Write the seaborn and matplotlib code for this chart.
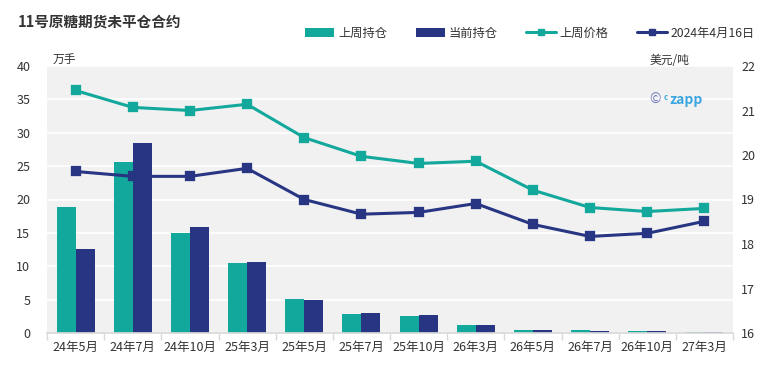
import matplotlib
matplotlib.use("Agg")
import matplotlib.pyplot as plt
import seaborn as sns
import pandas as pd
import numpy as np
from matplotlib.lines import Line2D
from matplotlib.patches import Patch

categories = ["24年5月", "24年7月", "24年10月", "25年3月", "25年5月", "25年7月",
              "25年10月", "26年3月", "26年5月", "26年7月", "26年10月", "27年3月"]
oi_last_week = [18.9, 25.6, 15.0, 10.5, 5.1, 2.85, 2.55, 1.2, 0.45, 0.45, 0.3, 0.15]
oi_current = [12.6, 28.5, 15.9, 10.6, 4.95, 3.0, 2.7, 1.2, 0.45, 0.3, 0.3, 0.15]
price_last_week = [21.45, 21.07, 21.00, 21.14, 20.39, 19.97, 19.81, 19.86, 19.21, 18.82, 18.73, 18.80]
price_current = [19.63, 19.52, 19.52, 19.70, 19.00, 18.67, 18.71, 18.91, 18.44, 18.17, 18.24, 18.51]
series_names = ["上周持仓", "当前持仓", "上周价格", "2024年4月16日"]
left_ticks = [0, 5, 10, 15, 20, 25, 30, 35, 40]
right_ticks = [16, 17, 18, 19, 20, 21, 22]

TEAL = "#13a89c"
NAVY = "#283583"
TXT = "#333333"

sns.set_theme(style="white")
plt.rcParams['font.family'] = ['Noto Sans CJK SC', 'DejaVu Sans']

fig = plt.figure(figsize=(7.71, 3.80), dpi=100)
ax = fig.add_axes([47/771, 1 - 333/380, (733-47)/771, (333-66)/380])
ax.set_facecolor("#f1f1f1")

bars = pd.DataFrame({
    "cat": categories * 2,
    "val": oi_last_week + oi_current,
    "series": [series_names[0]] * len(categories) + [series_names[1]] * len(categories),
})
sns.barplot(data=bars, x="cat", y="val", hue="series", order=categories,
            hue_order=series_names[:2], palette=[TEAL, NAVY], width=0.667,
            saturation=1, legend=False, ax=ax, zorder=2, linewidth=0, edgecolor="none")
ax.set_ylim(0, 40)
ax.set_yticks(left_ticks)
ax.yaxis.grid(True, color="white", linewidth=1.2, zorder=0)
ax.set_axisbelow(True)
ax.set_xlabel("")
ax.set_ylabel("")
ax.set_xlim(-0.5, len(categories) - 0.5)
for s in ["top", "right", "left"]:
    ax.spines[s].set_visible(False)
ax.spines["bottom"].set_color("#d9d9d9")
ax.tick_params(axis="y", length=0, labelsize=9, labelcolor=TXT, pad=12)
ax.tick_params(axis="x", length=0, labelsize=9, labelcolor=TXT, pad=6)
ax.set_xticks(np.arange(-0.5, len(categories), 1.0), minor=True)
ax.tick_params(axis="x", which="minor", length=5, color="#d9d9d9", width=1, bottom=True)

ax2 = ax.twinx()
lines = pd.DataFrame({
    "cat": categories * 2,
    "val": price_last_week + price_current,
    "series": [series_names[2]] * len(categories) + [series_names[3]] * len(categories),
})
for name, col in [(series_names[2], TEAL), (series_names[3], NAVY)]:
    sub = lines[lines.series == name]
    sns.pointplot(data=sub, x="cat", y="val", order=categories, color=col,
                  markers="s", markersize=6, linewidth=2.2, ax=ax2)
ax2.set_ylim(16, 22)
ax2.set_yticks(right_ticks)
ax2.set_xlim(-0.5, len(categories) - 0.5)
ax2.set_xlabel("")
ax2.set_ylabel("")
for s in ["top", "right", "left", "bottom"]:
    ax2.spines[s].set_visible(False)
ax2.tick_params(axis="y", length=0, labelsize=9, labelcolor=TXT, pad=6)
ax2.grid(False)

fig.text(18/771, 1 - 22/380, "11号原糖期货未平仓合约", fontsize=10.5, fontweight="bold",
         color=TXT, va="center", ha="left")
fig.text(53/771, 1 - 60/380, "万手", fontsize=8.5, color=TXT, va="center", ha="left")
fig.text(650/771, 1 - 60/380, "美元/吨", fontsize=8.5, color=TXT, va="center", ha="left")

fig.text(649/771, 1 - 100/380, "©", fontsize=10, color="#7b80c0", va="center", ha="left")
fig.text(664/771, 1 - 97/380, "c", fontsize=5.5, color="#3aa5e0", va="center", ha="left", fontweight="bold")
fig.text(669/771, 1 - 100/380, "zapp", fontsize=10, color="#3aa5e0", va="center", ha="left", fontweight="bold")

handles = [
    Patch(facecolor=TEAL, edgecolor="none"),
    Patch(facecolor=NAVY, edgecolor="none"),
    Line2D([0], [0], color=TEAL, lw=2.2, marker="s", markersize=5),
    Line2D([0], [0], color=NAVY, lw=2.2, marker="s", markersize=5),
]
leg = fig.legend(handles, series_names, loc="center left", bbox_to_anchor=(305/771, 1 - 33/380),
                 ncol=4, frameon=False, fontsize=8.8, handlelength=2.4, handleheight=0.7,
                 handletextpad=0.3, columnspacing=2.35, borderaxespad=0, borderpad=0)
for t in leg.get_texts():
    t.set_color(TXT)

fig.savefig("out.png", dpi=100)
